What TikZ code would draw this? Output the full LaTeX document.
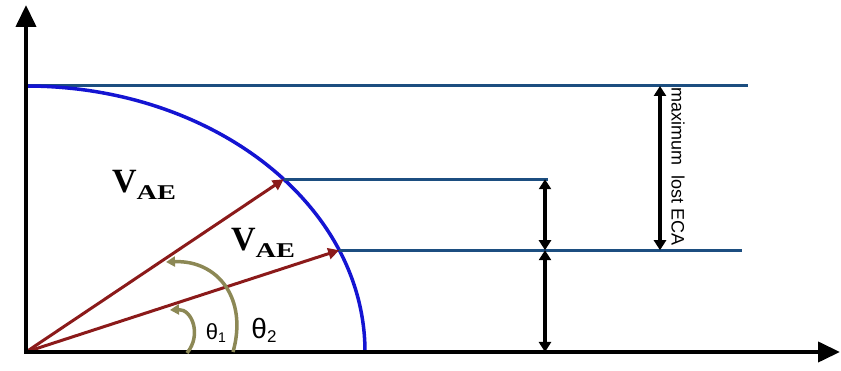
\documentclass[tikz,border=0pt]{standalone}
\usepackage{fontspec}
\setmainfont{Liberation Serif}
\newfontfamily\arialf{Liberation Sans}
\usetikzlibrary{arrows.meta,calc}
\definecolor{vecred}{RGB}{139,26,26}
\definecolor{hblue}{RGB}{28,78,128}
\definecolor{arcblue}{RGB}{20,20,210}
\definecolor{olive2}{RGB}{140,136,85}
\tikzset{
  axisline/.style={line width=4pt,-{Triangle[length=22pt,width=20pt]}},
  hline/.style={hblue,line width=3pt},
  vec/.style={vecred,line width=3pt,-{Triangle[length=11pt,width=11pt]}},
  dimarrow/.style={black,line width=3.5pt,{Triangle[length=10pt,width=12pt]}-{Triangle[length=10pt,width=12pt]}},
  anglearc/.style={olive2,line width=3.5pt,{Triangle[length=9pt,width=10pt]}-},
  vlabel/.style={inner sep=0pt},
}
\begin{document}
\begin{tikzpicture}[x=1pt,y=1pt]
\useasboundingbox (0,0) rectangle (841,371);
\coordinate (O) at (26,19);
\coordinate (Ytip) at (26,366);
\coordinate (Xtip) at (840,19);
\coordinate (Ybot) at (26,17);
\coordinate (Xleft) at (24,19);
% top line
\coordinate (T0) at (26,285);
\coordinate (T1) at (748,285);
\draw[hline] (T0) -- (T1);
% ellipse arc
\draw[arcblue,line width=3.5pt] (T0) arc[start angle=90,end angle=0,x radius=339,y radius=266];
% vector endpoints
\coordinate (P1) at ($(O)+(40.5:339 and 266)$);
\coordinate (P2) at ($(O)+(22.5:339 and 266)$);
\coordinate (H1) at (P1 -| 548,0);
\coordinate (H2) at (P2 -| 742,0);
\draw[hline] (P1) -- (H1);
\draw[hline] (P2) -- (H2);
% vectors
\draw[vec] (O) -- (P1);
\draw[vec] (O) -- (P2);
% axes
\draw[axisline] (Ybot) -- (Ytip);
\draw[axisline] (Xleft) -- (Xtip);
% dimension arrows
\coordinate (D1) at (P1 -| 545,0);
\coordinate (D2) at (P2 -| 545,0);
\coordinate (D3) at (545,19);
\draw[dimarrow] (D1) -- (D2);
\draw[dimarrow] (D2) -- (D3);
\coordinate (E1) at (660,285);
\coordinate (E2) at (P2 -| 660,0);
\draw[dimarrow] (E1) -- (E2);
\node[rotate=-90,inner sep=0pt] (maxlbl) at (678,204) {\arialf\fontsize{18}{18}\selectfont maximum\ \ lost ECA};
% angle arcs
\coordinate (A1s) at (170,61);
\coordinate (A1e) at (187,18);
\coordinate (A2s) at (166,109);
\coordinate (A2e) at (233,19);
\draw[anglearc] (A1s) .. controls (192,62) and (202,36) .. (A1e);
\draw[anglearc] (A2s) .. controls (218,111) and (248,72) .. (A2e);
% labels
\node[vlabel] (v1) at (144,186) {\fontsize{34}{34}\selectfont\bfseries V\raisebox{-7pt}{\scalebox{1.35}[1]{\fontsize{21}{21}\selectfont AE}}};
\node[vlabel] (v2) at (263,128) {\fontsize{34}{34}\selectfont\bfseries V\raisebox{-7pt}{\scalebox{1.35}[1]{\fontsize{21}{21}\selectfont AE}}};
\node[inner sep=0pt] (t1) at (216,38) {\arialf\fontsize{22}{22}\selectfont θ\raisebox{-3pt}{\fontsize{14}{14}\selectfont 1}};
\node[inner sep=0pt] (t2) at (264,41) {\arialf\fontsize{28}{28}\selectfont θ\raisebox{-4pt}{\fontsize{17}{17}\selectfont 2}};
\end{tikzpicture}
\end{document}
